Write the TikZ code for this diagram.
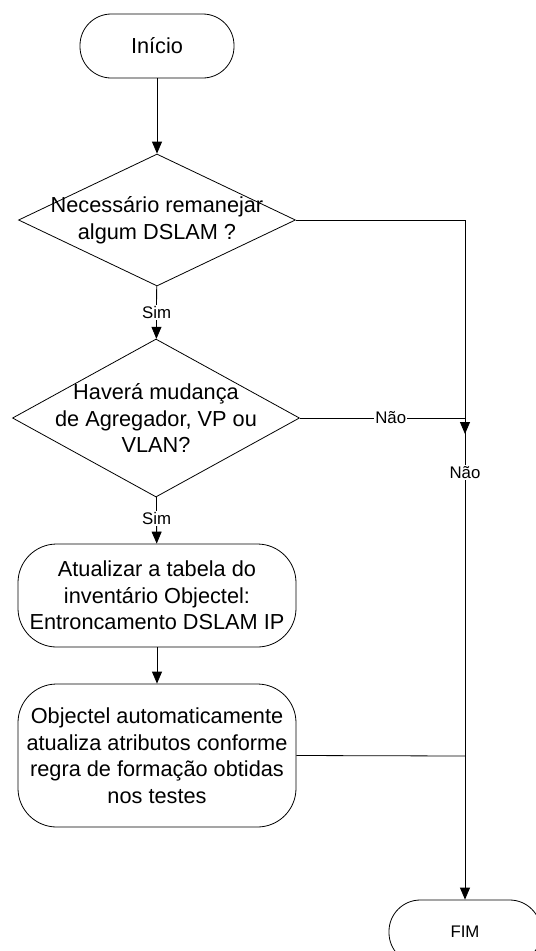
\documentclass[tikz,border=0pt]{standalone}
\usepackage{fontspec}
\setmainfont{Liberation Sans}
\usetikzlibrary{shapes.geometric,arrows.meta}
\begin{document}
\begin{tikzpicture}[x=0.75pt,y=-0.75pt,
  line width=0.6pt,
  every node/.style={inner sep=0pt},
  bigtext/.style={font=\fontsize{16.3}{19.9}\selectfont, align=center},
  term/.style={draw, rectangle, rounded corners=23.5pt, minimum height=48pt, bigtext},
  dec/.style={draw, diamond, inner sep=0pt},
  dtext/.style={bigtext},
  proc/.style={draw, rectangle, rounded corners=29pt, minimum width=208.5pt, bigtext},
  lbl/.style={fill=white, font=\fontsize{12.6}{14}\selectfont, inner sep=1pt},
  arr/.style={-{Triangle[length=9pt,width=7.5pt]}}]
\useasboundingbox (0,0) rectangle (536,951);
\clip (0,0) rectangle (536,951);

\node[term, minimum width=115.5pt] (start) at (157,46) {Início};
\node[dec, minimum width=207.75pt, minimum height=99pt,
  label={[dtext]center:{Necessário remanejar\\algum DSLAM ?}}] (d1) at (157,220) {};
\node[dec, minimum width=215.25pt, minimum height=118.5pt,
  label={[dtext]center:{Haverá mudança\\de Agregador, VP ou\\VLAN?}}] (d2) at (156,418) {};
\node[proc, minimum height=77.25pt] (b1) at (157,595.5)
  {Atualizar a tabela do\\inventário Objectel:\\Entroncamento DSLAM IP};
\node[proc, minimum height=107.25pt] (b2) at (157,755.5)
  {Objectel automaticamente\\atualiza atributos conforme\\regra de formação obtidas\\nos testes};
\node[term, minimum width=114pt, font=\fontsize{12.6}{14}\selectfont] (fim) at (465,932) {FIM};

\coordinate (j2) at (465,418);
\coordinate (j2a) at (465,434);
\coordinate (j3) at (465,756);

\draw[arr] (start) -- (d1);
\draw[arr] (d1) -- node[lbl]{Sim} (d2);
\draw[arr] (d2) -- node[lbl, pos=0.45]{Sim} (b1);
\draw[arr] (b1) -- (b2);
\draw[arr] (d1.east) -| node[lbl, pos=0.686]{Não} (fim.north);
\draw[arr] (d2.east) -- node[lbl, pos=0.55]{Não} (j2) -- (j2a);
\draw (b2.east) -- (j3);
\end{tikzpicture}
\end{document}
